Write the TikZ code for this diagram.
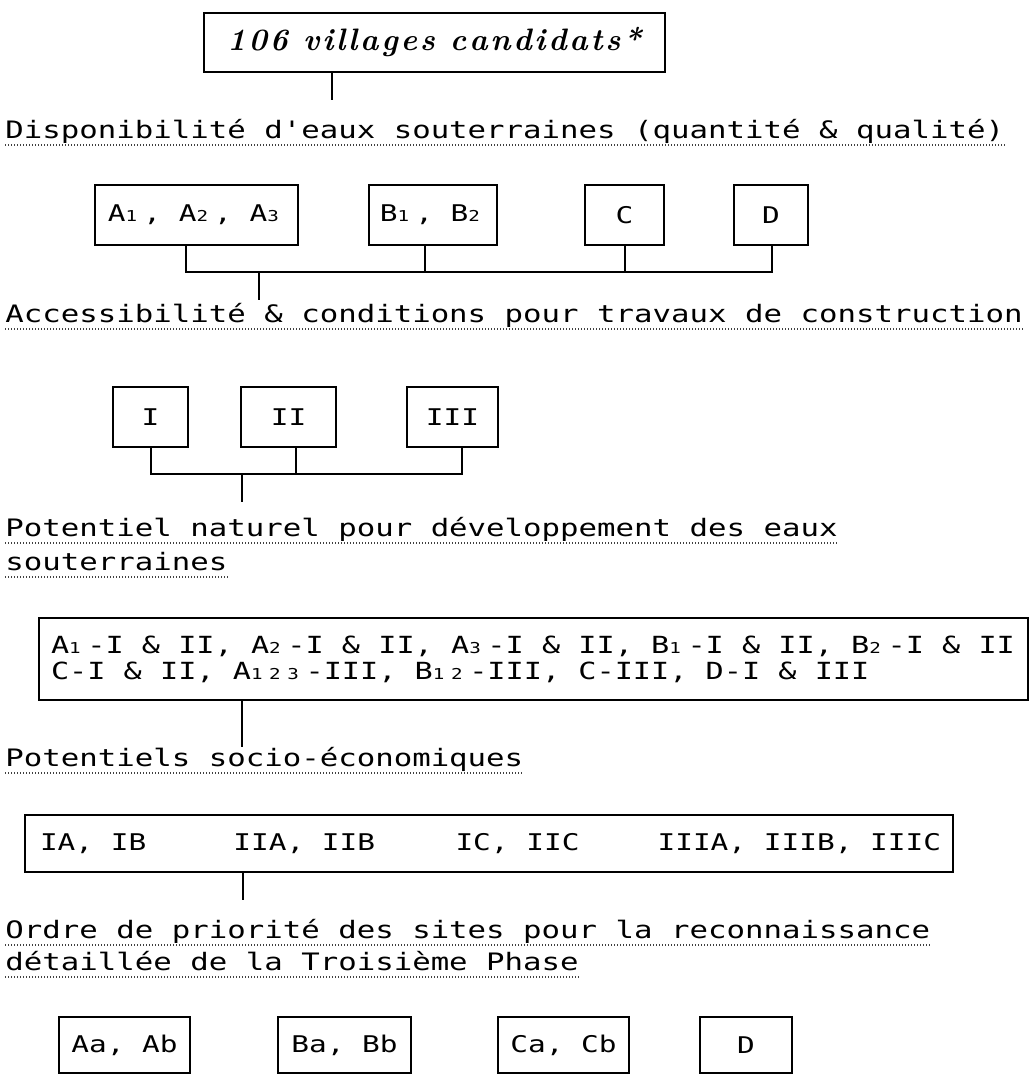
\documentclass[tikz,border=0pt]{standalone}
\usepackage{fontspec}
\newcommand\tlk{\kern1.4pt}
\newcommand\twsp{\hspace{7.5pt}}
\newfontfamily\mono[FakeStretch=1.28]{DejaVu Sans Mono}
\newcommand\lowdig[1]{\makebox[0.602\dimexpr1.28\dimexpr\csname f@size\endcsname pt\relax\relax][l]{\fontsize{7.5}{8}\selectfont #1}}
\begin{document}
\begin{tikzpicture}[x=0.5pt,y=-0.5pt,
  box/.style={draw, line width=1.2pt, inner sep=0pt, font=\mono\fontsize{11.5}{13}\selectfont, minimum height=30pt},
  conn/.style={line width=0.9pt},
  head/.style={anchor=base west, inner sep=0pt, font=\mono\fontsize{12}{13}\selectfont},
  uline/.style={black!75, line width=0.6pt, dash pattern=on 0.6pt off 0.9pt},
]
\fill[white] (0,0) rectangle (1030,1076);
\useasboundingbox (0,0) rectangle (1030,1076);

% top
\node[box, minimum width=230.5pt, minimum height=29.5pt,
  font=\rmfamily\bfseries\itshape\fontsize{15.5}{16}\selectfont] (top) at (434.5,42.5)
  {1\tlk0\tlk6\twsp v\tlk i\tlk l\tlk l\tlk a\tlk g\tlk e\tlk s\twsp c\tlk a\tlk n\tlk d\tlk i\tlk d\tlk a\tlk t\tlk s\tlk*};
\coordinate (t1) at (332,100);
\draw[conn] (top.south -| t1) -- (t1);

% heading 1
\node[head] (H1) at (5,138) {Disponibilité d\char"0027 eaux souterraines (quantité \& qualité)};
\draw[uline] ([yshift=-3.5pt]H1.base west) -- ([yshift=-3.5pt]H1.base east);

% row 1
\node[box, minimum width=101.5pt] (A) at (196.5,215) {A\lowdig{1}, A\lowdig{2}, A\lowdig{3}};
\node[box, minimum width=64pt] (B) at (433,215) {B\lowdig{1}, B\lowdig{2}};
\node[box, minimum width=39.5pt] (C) at (624.5,215) {C};
\node[box, minimum width=37pt] (D) at (771,215) {D};
\coordinate (bA) at (186,272);
\coordinate (bB) at (425,272);
\coordinate (bC) at (625,272);
\coordinate (bD) at (772,272);
\coordinate (j1) at (259,272);
\coordinate (j1e) at (259,300);
\draw[conn] (A.south -| bA) -- (bA) -- (bD) -- (D.south -| bD);
\draw[conn] (B.south -| bB) -- (bB);
\draw[conn] (C.south -| bC) -- (bC);
\draw[conn] (j1) -- (j1e);

% heading 2
\node[head] (H2) at (5,322) {Accessibilité \& conditions pour travaux de construction};
\draw[uline] ([yshift=-3.5pt]H2.base west) -- ([yshift=-3.5pt]H2.base east);

% row 2
\node[box, minimum width=37.5pt] (R1) at (150.5,417) {I};
\node[box, minimum width=47.5pt] (R2) at (288.5,417) {II};
\node[box, minimum width=45.5pt] (R3) at (452.5,417) {III};
\coordinate (bI) at (151,474);
\coordinate (bII) at (296,474);
\coordinate (bIII) at (462,474);
\coordinate (j2) at (242,474);
\coordinate (j2e) at (242,502);
\draw[conn] (R1.south -| bI) -- (bI) -- (bIII) -- (R3.south -| bIII);
\draw[conn] (R2.south -| bII) -- (bII);
\draw[conn] (j2) -- (j2e);

% heading 3
\node[head] (H3a) at (5,536) {Potentiel naturel pour développement des eaux};
\draw[uline] ([yshift=-3.5pt]H3a.base west) -- ([yshift=-3.5pt]H3a.base east);
\node[head] (H3b) at (5,570) {souterraines};
\draw[uline] ([yshift=-3.5pt]H3b.base west) -- ([yshift=-3.5pt]H3b.base east);

% big box
\node[box, minimum width=494.5pt, minimum height=41pt, align=left, font=\mono\fontsize{11.8}{13}\selectfont] (P) at (533.5,659)
 {\makebox[482.5pt][l]{A\lowdig{1}-I \& II, A\lowdig{2}-I \& II, A\lowdig{3}-I \& II, B\lowdig{1}-I \& II, B\lowdig{2}-I \& II}\\
  \makebox[482.5pt][l]{C-I \& II, A\lowdig{1}\lowdig{2}\lowdig{3}-III, B\lowdig{1}\lowdig{2}-III, C-III, D-I \& III}};
\coordinate (d3) at (242,747);
\draw[conn] (P.south -| d3) -- (d3);

% heading 4
\node[head] (H4) at (5,766) {Potentiels socio-économiques};
\draw[uline] ([yshift=-3.5pt]H4.base west) -- ([yshift=-3.5pt]H4.base east);

% box 2
\node[box, minimum width=464pt, minimum height=28.5pt] (Q) at (489,843.5)
 {\makebox[449pt][l]{IA, IB\hspace{43.5pt}IIA, IIB\hspace{40.2pt}IC, IIC\hspace{39pt}IIIA, IIIB, IIIC}};
\coordinate (d4) at (243,900);
\draw[conn] (Q.south -| d4) -- (d4);

% heading 5
\node[head] (H5a) at (5,938) {Ordre de priorité des sites pour la reconnaissance};
\draw[uline] ([yshift=-3.5pt]H5a.base west) -- ([yshift=-3.5pt]H5a.base east);
\node[head] (H5b) at (5,970) {détaillée de la Troisième Phase};
\draw[uline] ([yshift=-3.5pt]H5b.base west) -- ([yshift=-3.5pt]H5b.base east);

% bottom row
\node[box, minimum width=65.5pt, minimum height=28pt] (Z1) at (124.5,1045) {Aa, Ab};
\node[box, minimum width=66.5pt, minimum height=28pt] (Z2) at (344.5,1045) {Ba, Bb};
\node[box, minimum width=65.5pt, minimum height=28pt] (Z3) at (563.5,1045) {Ca, Cb};
\node[box, minimum width=46pt, minimum height=28pt] (Z4) at (746,1045) {D};
\end{tikzpicture}
\end{document}
